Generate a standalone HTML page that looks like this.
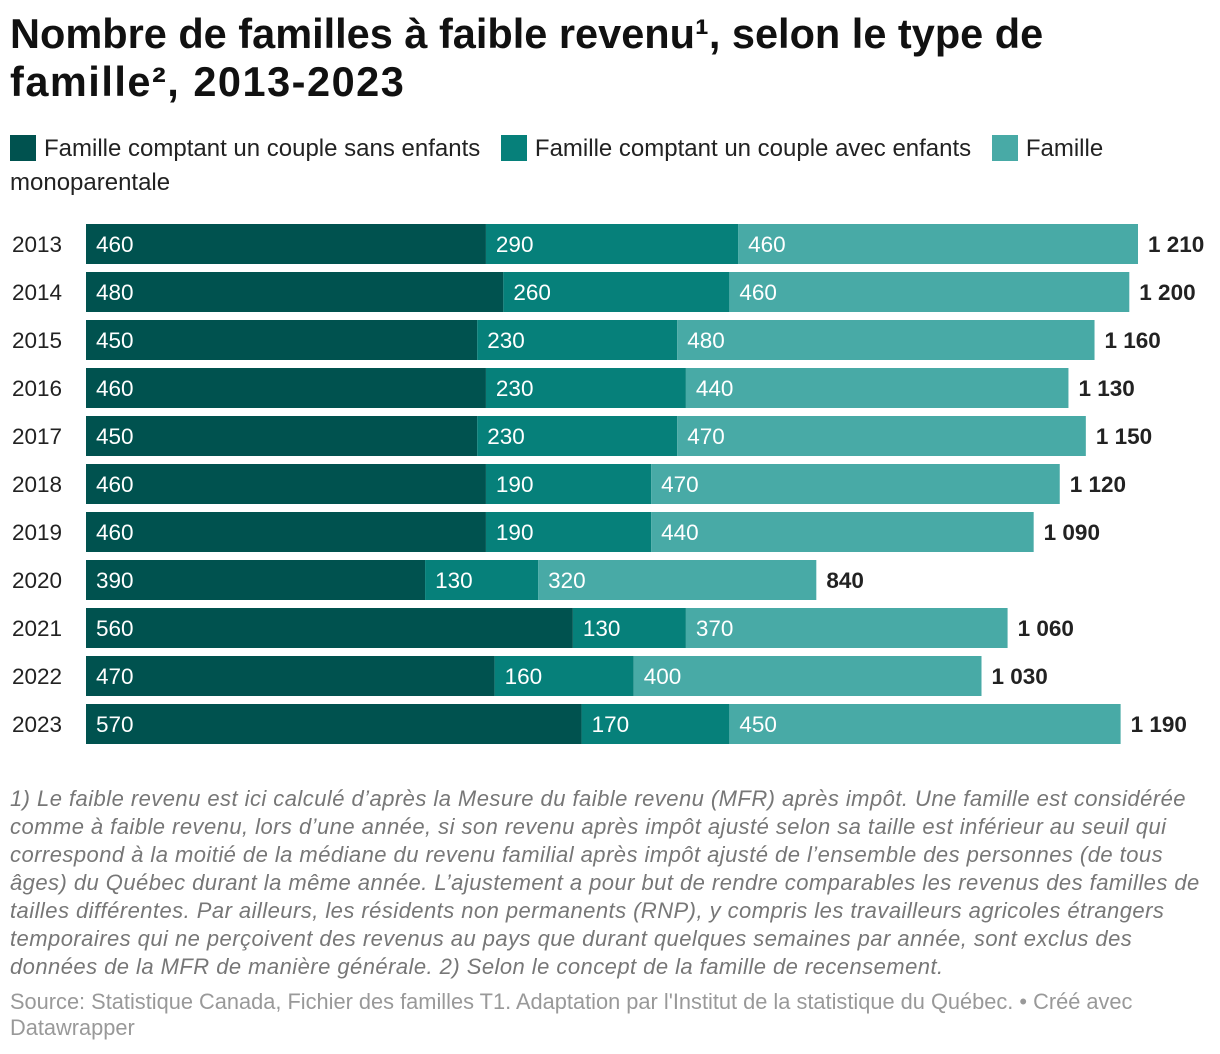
<!DOCTYPE html>
<html><head><meta charset="utf-8">
<style>
body{margin:0;background:#fff;font-family:"Liberation Sans",sans-serif;width:1220px;height:1054px;overflow:hidden;position:relative}
h1{position:absolute;left:10px;top:10px;margin:0;font-size:41.5px;line-height:48px;font-weight:bold;color:#111;white-space:nowrap}
.l2{letter-spacing:1.5px}
.legend{position:absolute;left:10px;top:132px;font-size:24px;line-height:34px;color:#222;white-space:nowrap}
.sw{display:inline-block;width:26px;height:26px;vertical-align:-5px;margin-right:8px}
.li{margin-right:14px}
.note{position:absolute;left:10px;top:785px;font-size:22px;letter-spacing:0.45px;line-height:28px;font-style:italic;color:#777;white-space:nowrap}
.src{position:absolute;left:10px;top:989px;font-size:21.8px;line-height:26px;color:#999;white-space:nowrap}
</style></head><body>
<h1>Nombre de familles à faible revenu¹, selon le type de<br><span class="l2">famille², 2013-2023</span></h1>
<div class="legend">
<span class="li"><span class="sw" style="background:#00524f"></span>Famille comptant un couple sans enfants</span>
<span class="li"><span class="sw" style="background:#06807a"></span>Famille comptant un couple avec enfants</span>
<span class="li"><span class="sw" style="background:#48aaa6"></span>Famille<br>monoparentale</span>
</div>
<svg id="chart" width="1220" height="760" style="position:absolute;left:0;top:0"></svg>
<div class="note">1) Le faible revenu est ici calculé d’après la Mesure du faible revenu (MFR) après impôt. Une famille est considérée<br>comme à faible revenu, lors d’une année, si son revenu après impôt ajusté selon sa taille est inférieur au seuil qui<br>correspond à la moitié de la médiane du revenu familial après impôt ajusté de l’ensemble des personnes (de tous<br>âges) du Québec durant la même année. L’ajustement a pour but de rendre comparables les revenus des familles de<br>tailles différentes. Par ailleurs, les résidents non permanents (RNP), y compris les travailleurs agricoles étrangers<br>temporaires qui ne perçoivent des revenus au pays que durant quelques semaines par année, sont exclus des<br>données de la MFR de manière générale. 2) Selon le concept de la famille de recensement.</div>
<div class="src">Source: Statistique Canada, Fichier des familles T1. Adaptation par l'Institut de la statistique du Québec. • Créé avec<br>Datawrapper</div>
<script>
const years=["2013","2014","2015","2016","2017","2018","2019","2020","2021","2022","2023"];
const sansEnfants=[460,480,450,460,450,460,460,390,560,470,570];
const avecEnfants=[290,260,230,230,230,190,190,130,130,160,170];
const monoparentale=[460,460,480,440,470,470,440,320,370,400,450];
const totals=[1210,1200,1160,1130,1150,1120,1090,840,1060,1030,1190];
const series=[sansEnfants,avecEnfants,monoparentale];
const colors=["#00524f","#06807a","#48aaa6"];
const names=["sans-enfants","avec-enfants","monoparentale"];
const svg=document.getElementById('chart');
const NS="http://www.w3.org/2000/svg";
const x0=86,scale=1052/1210;
const xs=v=>x0+v*scale;
const ys=i=>224+i*48;
function fmt(n){const s=String(n);return s.length>3?s.slice(0,-3)+" "+s.slice(-3):s;}
function txt(x,y,t,fill,bold){const e=document.createElementNS(NS,'text');e.setAttribute('x',x);e.setAttribute('y',y);e.setAttribute('font-size','22.5');e.setAttribute('font-family','Liberation Sans, sans-serif');e.setAttribute('fill',fill);if(bold)e.setAttribute('font-weight','bold');e.textContent=t;svg.appendChild(e);return e;}
years.forEach((yr,i)=>{
  const y=ys(i);
  const yl=txt(12,y+28,yr,"#222",false);
  
  
  let cum=0;
  series.forEach((s,k)=>{
    const r=document.createElementNS(NS,'rect');
    r.setAttribute('x',xs(cum));r.setAttribute('y',y);
    r.setAttribute('width',s[i]*scale);r.setAttribute('height',40);
    r.setAttribute('fill',colors[k]);
    
    
    svg.appendChild(r);
    const l=txt(xs(cum)+10,y+28,fmt(s[i]),"#fff",false);
    
    
    cum+=s[i];
  });
  const t=txt(xs(cum)+10,y+28,fmt(totals[i]),"#222",true);
  
  
});
</script>
</body></html>
